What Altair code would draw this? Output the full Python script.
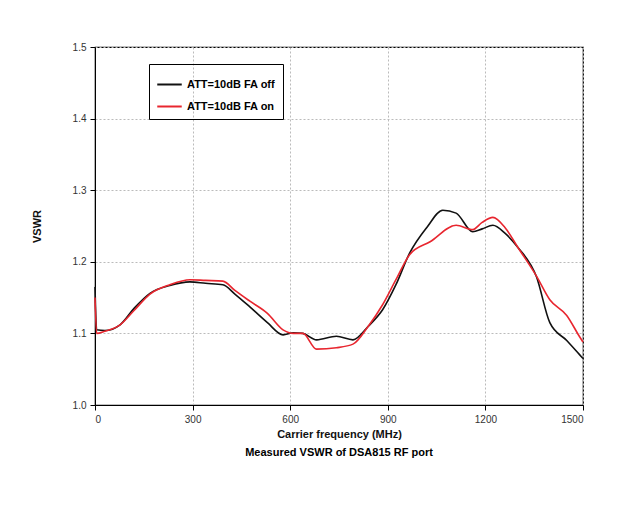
import altair as alt
import pandas as pd

freq_off = [0, 5, 30, 77, 120, 169, 230, 292, 340, 393, 430, 476, 530, 578, 610, 639, 681, 742, 793, 840, 884, 925, 967, 1020, 1069, 1110, 1161, 1190, 1223, 1260, 1300, 1357, 1398, 1450, 1490, 1500]
vswr_off = [1.165, 1.105, 1.104, 1.112, 1.135, 1.156, 1.167, 1.172, 1.170, 1.168, 1.155, 1.137, 1.115, 1.098, 1.101, 1.10, 1.091, 1.096, 1.091, 1.110, 1.133, 1.168, 1.212, 1.248, 1.272, 1.268, 1.242, 1.246, 1.251, 1.240, 1.22, 1.179, 1.115, 1.090, 1.07, 1.065]

freq_on = [0, 5, 30, 77, 120, 169, 230, 292, 340, 393, 430, 476, 530, 578, 610, 639, 681, 742, 793, 840, 884, 925, 967, 1030, 1110, 1161, 1190, 1223, 1260, 1300, 1357, 1398, 1450, 1490, 1500]
vswr_on = [1.15, 1.10, 1.103, 1.112, 1.132, 1.155, 1.168, 1.175, 1.174, 1.173, 1.160, 1.145, 1.128, 1.105, 1.100, 1.10, 1.078, 1.08, 1.085, 1.110, 1.14, 1.175, 1.21, 1.228, 1.251, 1.245, 1.255, 1.262, 1.248, 1.22, 1.18, 1.147, 1.125, 1.095, 1.088]

names = ["ATT=10dB FA off", "ATT=10dB FA on"]

df = pd.concat([
    pd.DataFrame({"f": freq_off, "v": vswr_off, "s": names[0]}),
    pd.DataFrame({"f": freq_on, "v": vswr_on, "s": names[1]}),
])

font = "Liberation Sans"

chart = alt.Chart(df).mark_line(strokeWidth=1.6, interpolate="monotone").encode(
    x=alt.X("f:Q", scale=alt.Scale(domain=[0, 1500], nice=False),
            axis=alt.Axis(values=[0, 300, 600, 900, 1200, 1500], format="d",
                          title="Carrier frequency (MHz)",
                          gridDash=[2, 2], gridColor="#bbbbbb")),
    y=alt.Y("v:Q", scale=alt.Scale(domain=[1.0, 1.5], nice=False),
            axis=alt.Axis(values=[1.0, 1.1, 1.2, 1.3, 1.4, 1.5], format=".1f", title="VSWR",
                          gridDash=[2, 2], gridColor="#bbbbbb", titlePadding=30)),
    color=alt.Color("s:N", scale=alt.Scale(domain=names, range=["#111111", "#e8262f"]),
                    legend=alt.Legend(title=None, orient="none", legendX=54, legendY=17,
                                      symbolType="stroke", symbolSize=600, symbolStrokeWidth=2,
                                      labelFontSize=11, labelFontWeight="bold",
                                      strokeColor="black", padding=7, rowPadding=3)),
).properties(
    width=488, height=358,
    padding={"left": 87, "top": 39, "right": 30, "bottom": 60},
    autosize=alt.AutoSizeParams(type="none"),
    title=alt.Title("Measured VSWR of DSA815 RF port", orient="bottom", fontSize=11,
                    fontWeight="bold", font=font, offset=8),
).configure_axis(
    labelFont=font, titleFont=font, labelFontSize=10, titleFontSize=11,
    titleFontWeight="bold", labelColor="#333", titleColor="#111",
    domainColor="black", tickColor="black", labelPadding=4,
).configure_legend(labelFont=font).configure_view(stroke="black", strokeWidth=1.2)

chart.save("out.html", embed_options={"renderer": "svg", "actions": False})
